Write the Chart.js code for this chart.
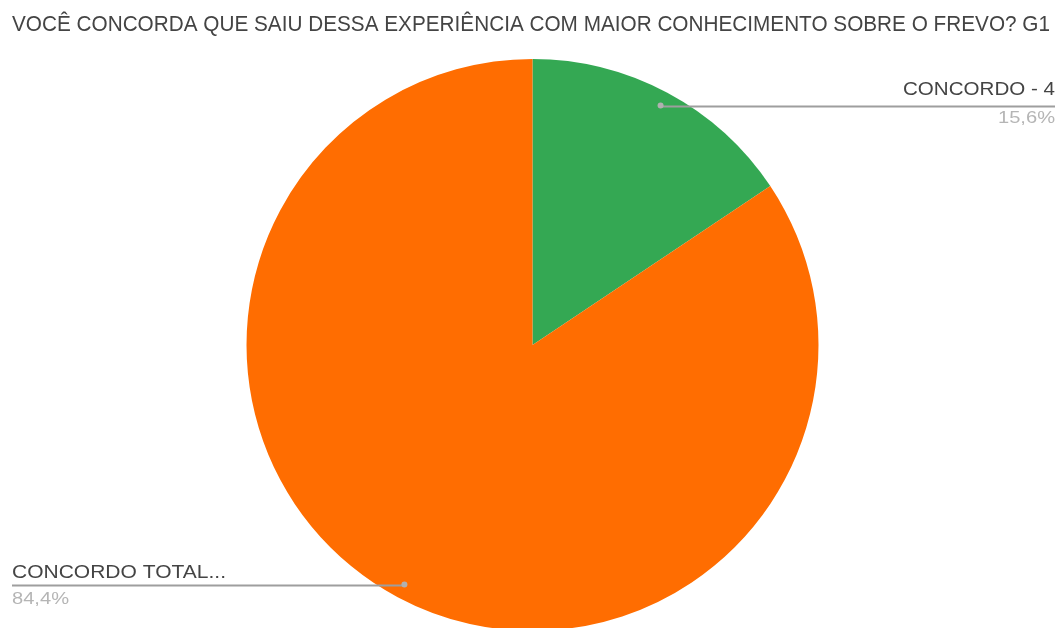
<!DOCTYPE html>
<html>
<head>
<meta charset="utf-8">
<script src="https://cdn.jsdelivr.net/npm/chart.js@4.4.1/dist/chart.umd.min.js"></script>
<style>
  html, body { margin: 0; padding: 0; background: #fff; overflow: hidden; }
  #wrap { width: 1057px; height: 660px; }
</style>
</head>
<body>
<div id="wrap"><canvas id="pizza"></canvas></div>
<script>
// dados
var titulo = 'VOCÊ CONCORDA QUE SAIU DESSA EXPERIÊNCIA COM MAIOR CONHECIMENTO SOBRE O FREVO? G1';
var categorias = ['CONCORDO - 4', 'CONCORDO TOTAL...'];
var respostas = [5, 27];
var percentuais = ['15,6%', '84,4%'];
var cores = ['#34a853', '#ff6d01'];

// escreve texto ajustado a uma largura (fonte condensada do original)
function textoAjustado(ctx, txt, x, y, largura, align) {
    var w = ctx.measureText(txt).width;
    var sx = largura / w;
    ctx.save();
    ctx.translate(x, y);
    ctx.scale(sx, 1);
    ctx.textAlign = align;
    ctx.fillText(txt, 0, 0);
    ctx.restore();
}

var rotulos = {
    id: 'rotulos',
    afterDraw: function(chart) {
        var ctx = chart.ctx;
        ctx.save();
        ctx.textBaseline = 'middle';

        // titulo
        ctx.fillStyle = '#444';
        ctx.font = '22px "Liberation Sans Narrow", "Liberation Sans", Arial, sans-serif';
        textoAjustado(ctx, titulo, 12, 25, 1038, 'left');

        var arcs = chart.getDatasetMeta(0).data;
        arcs.forEach(function(arc, i) {
            var p = arc.getProps(['x', 'y', 'startAngle', 'endAngle', 'outerRadius'], true);
            var meio = (p.startAngle + p.endAngle) / 2;
            var r = p.outerRadius * 0.95;
            var px = p.x + Math.cos(meio) * r;
            var py = p.y + Math.sin(meio) * r;
            var direita = Math.cos(meio) > 0;
            var xFim = direita ? 1055 : 12;

            ctx.strokeStyle = '#9e9e9e';
            ctx.lineWidth = 2;
            ctx.beginPath();
            ctx.moveTo(px, py + 1);
            ctx.lineTo(xFim, py + 1);
            ctx.stroke();

            ctx.fillStyle = '#b0b0b0';
            ctx.beginPath();
            ctx.arc(px, py, 3, 0, Math.PI * 2);
            ctx.fill();

            ctx.font = '18px "Liberation Sans", Arial, sans-serif';
            ctx.fillStyle = '#444';
            var align = direita ? 'right' : 'left';
            var nomeW = direita ? 152 : 214;
            textoAjustado(ctx, categorias[i], xFim, py + (direita ? -15 : -12), nomeW, align);
            ctx.font = '16px "Liberation Sans", Arial, sans-serif';
            ctx.fillStyle = '#b5b5b5';
            textoAjustado(ctx, percentuais[i], xFim, py + (direita ? 13 : 15), 57, align);
        });
        ctx.restore();
    }
};

var grafico = new Chart(document.getElementById('pizza'), {
    type: 'pie',
    data: {
        labels: categorias,
        datasets: [{
            data: respostas,
            backgroundColor: cores,
            borderWidth: 0
        }]
    },
    options: {
        responsive: true,
        maintainAspectRatio: false,
        animation: false,
        layout: {
            padding: { top: 59, bottom: 29, left: 8, right: 0 }
        },
        plugins: {
            legend: { display: false },
            title: { display: false },
            tooltip: { enabled: false }
        }
    },
    plugins: [rotulos]
});
</script>
</body>
</html>
